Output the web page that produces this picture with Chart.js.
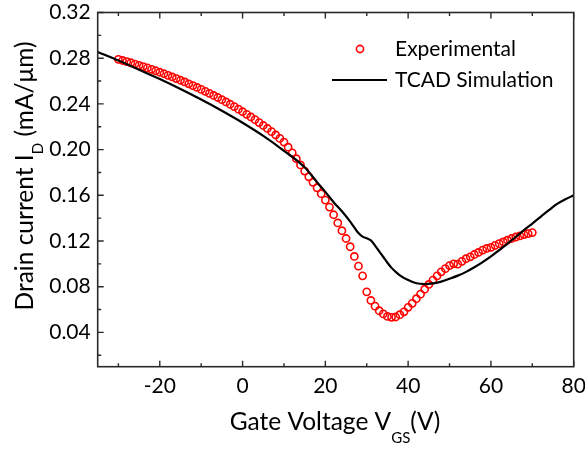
<!DOCTYPE html>
<html>
<head>
<meta charset="utf-8">
<script src="https://cdn.jsdelivr.net/npm/chart.js@4.4.1/dist/chart.umd.min.js"></script>
<style>
html,body{margin:0;padding:0;background:#fff;}
#wrap{width:585px;height:451px;position:relative;}
</style>
</head>
<body>
<div id="wrap"><canvas id="c" width="585" height="451"></canvas></div>
<script>
// ---- data ----
const expX = [-30,-29,-28,-27,-26,-25,-24,-23,-22,-21,-20,-19,-18,-17,-16,-15,-14,-13,-12,-11,-10,-9,-8,-7,-6,-5,-4,-3,-2,-1,0,1,2,3,4,5,6,7,8,9,10,11,12,13,14,15,16,17,18,19,20,21,22,23,24,25,26,27,28,29,30,31,32,33,34,35,36,37,38,39,40,41,42,43,44,45,46,47,48,49,50,51,52,53,54,55,56,57,58,59,60,61,62,63,64,65,66,67,68,69,70];
const expY = [0.2790,0.2780,0.2770,0.2760,0.2749,0.2738,0.2727,0.2715,0.2703,0.2690,0.2677,0.2664,0.2650,0.2636,0.2622,0.2607,0.2592,0.2576,0.2560,0.2544,0.2527,0.2510,0.2492,0.2474,0.2456,0.2437,0.2417,0.2397,0.2376,0.2354,0.2332,0.2309,0.2286,0.2262,0.2237,0.2211,0.2185,0.2157,0.2128,0.2098,0.2066,0.2021,0.1972,0.1920,0.1866,0.1812,0.1762,0.1714,0.1666,0.1614,0.1558,0.1497,0.1430,0.1358,0.1290,0.1222,0.1150,0.1065,0.0980,0.0895,0.0755,0.0680,0.0630,0.0590,0.0562,0.0540,0.0532,0.0535,0.0555,0.0580,0.0620,0.0655,0.0695,0.0735,0.0778,0.0820,0.0858,0.0895,0.0930,0.0958,0.0985,0.1000,0.0998,0.1022,0.1045,0.1062,0.1082,0.1100,0.1120,0.1135,0.1145,0.1162,0.1177,0.1192,0.1207,0.1222,0.1235,0.1245,0.1256,0.1265,0.1274];
const simX = [-35,-30,-25,-20,-15,-10,-5,0,5,10,15,18,20,22,24,26,28,29,30,31,32,33,34,35,36,37,38,40,42,44,46,48,50,52,54,56,58,60,62,64,66,68,70,72,74,76,78,80];
const simY = [0.2855,0.2780,0.2700,0.2617,0.2530,0.2438,0.2340,0.2235,0.2120,0.1990,0.1845,0.1715,0.1630,0.1540,0.1460,0.1370,0.1270,0.1238,0.1224,0.1205,0.1160,0.1110,0.1060,0.1010,0.0965,0.0930,0.0900,0.0858,0.0830,0.0823,0.0830,0.0845,0.0870,0.0897,0.0930,0.0970,0.1015,0.1065,0.1120,0.1178,0.1235,0.1295,0.1353,0.1412,0.1470,0.1525,0.1565,0.1600];
const xTicks = [-20,0,20,40,60,80];
const xMinor = [-30,-10,10,30,50,70];
const yTicks = [0.04,0.08,0.12,0.16,0.20,0.24,0.28,0.32];
const yMinor = [0.02,0.06,0.10,0.14,0.18,0.22,0.26,0.30];
const seriesNames = ["Experimental","TCAD Simulation"];
const xTitle = ["Gate Voltage V","GS","(V)"];
const yTitle = ["Drain current I","D"," (mA/\u03bcm)"];

const FONT = "Lato";
const AXC = "#2a2a2a";

const framePlugin = {
  id: 'frame',
  afterDraw(chart) {
    const ctx = chart.ctx, a = chart.chartArea;
    const xs = chart.scales.x, ys = chart.scales.y;
    ctx.save();
    ctx.strokeStyle = AXC; ctx.lineWidth = 1.6;
    ctx.strokeRect(a.left, a.top, a.right - a.left, a.bottom - a.top);
    ctx.lineWidth = 1.4;
    ctx.beginPath();
    const tk = (list, len) => {
      list.forEach(v => {
        const px = xs.getPixelForValue(v);
        ctx.moveTo(px, a.bottom); ctx.lineTo(px, a.bottom - len);
        ctx.moveTo(px, a.top); ctx.lineTo(px, a.top + len);
      });
    };
    tk(xTicks, 6); tk(xMinor, 3.5);
    yTicks.forEach(v => { const py = ys.getPixelForValue(v); ctx.moveTo(a.left, py); ctx.lineTo(a.left + 6, py); });
    yMinor.forEach(v => { const py = ys.getPixelForValue(v); ctx.moveTo(a.left, py); ctx.lineTo(a.left + 3.5, py); });
    ctx.stroke();

    // legend
    ctx.fillStyle = '#000';
    ctx.font = "21px " + FONT;
    ctx.textBaseline = 'middle'; ctx.textAlign = 'left';
    ctx.strokeStyle = '#ff0000'; ctx.lineWidth = 1.6;
    ctx.beginPath(); ctx.arc(360, 49, 3.6, 0, Math.PI * 2); ctx.stroke();
    ctx.fillText(seriesNames[0], 395, 49);
    ctx.strokeStyle = '#000'; ctx.lineWidth = 2.2;
    ctx.beginPath(); ctx.moveTo(332, 80); ctx.lineTo(387, 80); ctx.stroke();
    ctx.fillText(seriesNames[1], 395, 80);

    // x title
    const big = "24.5px " + FONT, small = "15px " + FONT;
    ctx.textBaseline = 'alphabetic';
    ctx.font = big; const w1 = ctx.measureText(xTitle[0]).width; const w3 = ctx.measureText(xTitle[2]).width;
    ctx.font = small; const w2 = ctx.measureText(xTitle[1]).width;
    let x0 = 335 - (w1 + w2 + w3) / 2;
    ctx.font = big; ctx.fillText(xTitle[0], x0, 430);
    ctx.font = small; ctx.fillText(xTitle[1], x0 + w1, 443);
    ctx.font = big; ctx.fillText(xTitle[2], x0 + w1 + w2, 430);

    // y title
    ctx.save();
    ctx.translate(33, 176); ctx.rotate(-Math.PI / 2);
    ctx.font = big; const v1 = ctx.measureText(yTitle[0]).width; const v3 = ctx.measureText(yTitle[2]).width;
    ctx.font = small; const v2 = ctx.measureText(yTitle[1]).width;
    let y0 = -(v1 + v2 + v3) / 2;
    ctx.font = big; ctx.fillText(yTitle[0], y0, 0);
    ctx.font = small; ctx.fillText(yTitle[1], y0 + v1, 10);
    ctx.font = big; ctx.fillText(yTitle[2], y0 + v1 + v2, 0);
    ctx.restore();
    ctx.restore();
  }
};

new Chart(document.getElementById('c'), {
  type: 'scatter',
  data: {
    datasets: [
      {
        label: seriesNames[0],
        data: expX.map((x, i) => ({x: x, y: expY[i]})),
        showLine: false,
        pointStyle: 'circle',
        pointRadius: 3.6,
        pointBorderWidth: 1.6,
        pointBorderColor: '#ff0000',
        pointBackgroundColor: 'rgba(0,0,0,0)',
        order: 1
      },
      {
        label: seriesNames[1],
        data: simX.map((x, i) => ({x: x, y: simY[i]})),
        showLine: true,
        borderColor: '#000',
        borderWidth: 2.2,
        pointRadius: 0,
        cubicInterpolationMode: 'monotone',
        order: 0
      }
    ]
  },
  options: {
    responsive: false,
    animation: false,
    devicePixelRatio: 1,
    layout: { padding: { top: 12.5, right: 11.3, left: 0, bottom: 0 } },
    plugins: { legend: { display: false }, tooltip: { enabled: false } },
    scales: {
      x: {
        type: 'linear', min: -35, max: 80,
        afterBuildTicks: s => { s.ticks = xTicks.map(v => ({value: v})); },
        afterFit: s => { s.height = 84.3; s.paddingLeft = 0; s.paddingRight = 0; },
        grid: { display: false, drawTicks: false },
        border: { display: false },
        ticks: { color: '#000', font: { family: FONT, size: 21 }, padding: 7, maxRotation: 0, callback: v => String(v) }
      },
      y: {
        type: 'linear', min: 0.01, max: 0.32,
        afterBuildTicks: s => { s.ticks = yTicks.map(v => ({value: v})); },
        afterFit: s => { s.width = 97.7; s.paddingTop = 0; s.paddingBottom = 0; },
        grid: { display: false, drawTicks: false },
        border: { display: false },
        ticks: { color: '#000', font: { family: FONT, size: 21 }, padding: 7, callback: v => Number(v).toFixed(2) }
      }
    }
  },
  plugins: [framePlugin]
});
</script>
</body>
</html>
